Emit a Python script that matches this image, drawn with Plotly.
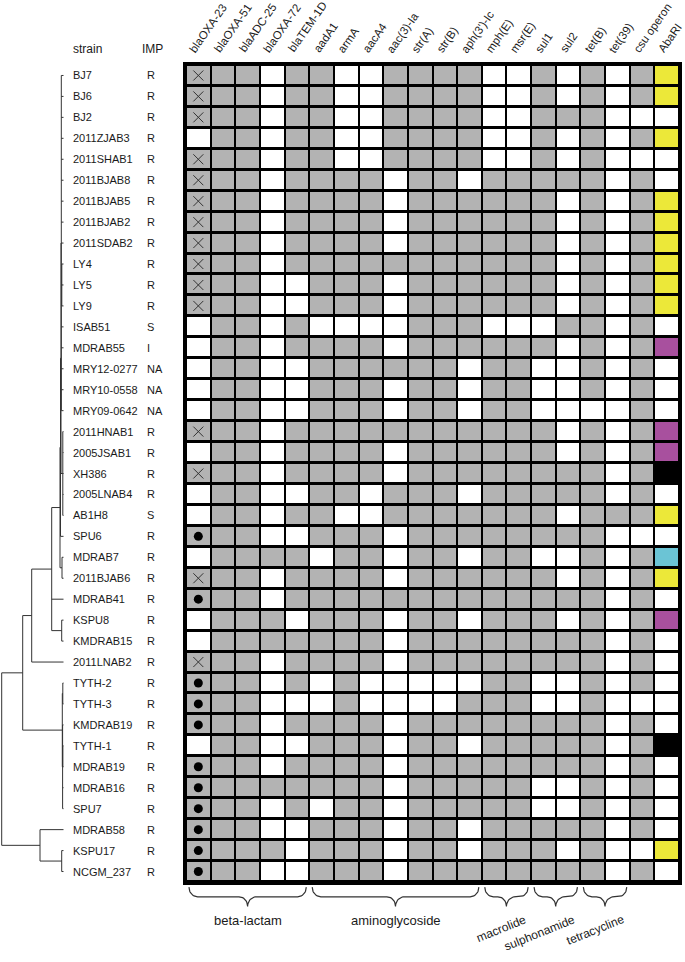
import numpy as np
import plotly.graph_objects as go

W, H = 685, 962

strains = ["BJ7", "BJ6", "BJ2", "2011ZJAB3", "2011SHAB1", "2011BJAB8", "2011BJAB5",
           "2011BJAB2", "2011SDAB2", "LY4", "LY5", "LY9", "ISAB51", "MDRAB55",
           "MRY12-0277", "MRY10-0558", "MRY09-0642", "2011HNAB1", "2005JSAB1", "XH386",
           "2005LNAB4", "AB1H8", "SPU6", "MDRAB7", "2011BJAB6", "MDRAB41", "KSPU8",
           "KMDRAB15", "2011LNAB2", "TYTH-2", "TYTH-3", "KMDRAB19", "TYTH-1", "MDRAB19",
           "MDRAB16", "SPU7", "MDRAB58", "KSPU17", "NCGM_237"]

imp = ["R"] * 12 + ["S", "I", "NA", "NA", "NA", "R", "R", "R", "R", "S"] + ["R"] * 17

genes = ["blaOXA-23", "blaOXA-51", "blaADC-25", "blaOXA-72", "blaTEM-1D", "aadA1", "armA",
         "aacA4", "aac(3)-Ia", "str(A)", "str(B)", "aph(3')-Ic", "mph(E)", "msr(E)", "sul1",
         "sul2", "tet(B)", "tet(39)", "csu operon", "AbaRI"]

# blaOXA-23 column: "x" present (cross), "o" present (dot), "" absent
oxa23 = ["x", "x", "x", "", "x", "x", "x", "x", "x", "x", "x", "x", "", "", "", "", "",
         "x", "", "x", "", "", "o", "", "x", "o", "", "", "x", "o", "o", "o", "", "o",
         "o", "o", "o", "o", "o"]

# presence of blaOXA-51 ... csu operon (1 = present)
present = [
    [1, 1, 0, 1, 1, 0, 0, 1, 1, 1, 1, 0, 0, 1, 0, 1, 0, 1],  # BJ7
    [1, 1, 0, 1, 1, 0, 0, 1, 1, 1, 1, 0, 0, 1, 0, 1, 0, 1],  # BJ6
    [1, 1, 0, 1, 1, 0, 0, 1, 1, 1, 1, 0, 0, 1, 1, 1, 0, 0],  # BJ2
    [1, 1, 0, 1, 1, 0, 0, 1, 1, 1, 1, 0, 0, 1, 0, 1, 0, 1],  # 2011ZJAB3
    [1, 1, 0, 1, 1, 0, 0, 1, 1, 1, 1, 0, 0, 1, 0, 1, 0, 0],  # 2011SHAB1
    [1, 1, 0, 1, 1, 1, 1, 0, 1, 1, 0, 1, 1, 1, 1, 1, 0, 1],  # 2011BJAB8
    [1, 1, 0, 1, 1, 1, 1, 0, 1, 1, 1, 1, 1, 1, 0, 1, 0, 1],  # 2011BJAB5
    [1, 1, 0, 1, 1, 1, 1, 0, 1, 1, 1, 1, 1, 1, 0, 1, 0, 1],  # 2011BJAB2
    [1, 1, 0, 1, 1, 1, 1, 0, 1, 1, 1, 1, 1, 1, 0, 1, 0, 1],  # 2011SDAB2
    [1, 1, 0, 1, 1, 1, 1, 1, 1, 1, 1, 1, 1, 1, 0, 1, 0, 1],  # LY4
    [1, 1, 0, 0, 1, 1, 1, 0, 1, 1, 1, 1, 1, 1, 0, 1, 0, 1],  # LY5
    [1, 1, 0, 0, 1, 1, 1, 0, 1, 1, 1, 1, 1, 1, 0, 1, 0, 1],  # LY9
    [1, 1, 0, 1, 0, 0, 0, 0, 1, 1, 1, 0, 0, 0, 1, 1, 0, 1],  # ISAB51
    [1, 1, 0, 1, 1, 1, 1, 0, 1, 1, 1, 1, 1, 1, 0, 1, 0, 1],  # MDRAB55
    [1, 1, 0, 0, 1, 1, 1, 1, 1, 1, 0, 1, 1, 0, 0, 1, 0, 1],  # MRY12-0277
    [1, 1, 0, 0, 1, 1, 1, 0, 1, 1, 0, 1, 1, 0, 0, 1, 0, 1],  # MRY10-0558
    [1, 1, 0, 0, 1, 1, 1, 0, 1, 1, 0, 1, 1, 0, 0, 0, 0, 1],  # MRY09-0642
    [1, 1, 0, 1, 1, 1, 1, 1, 1, 1, 1, 1, 1, 1, 0, 1, 0, 1],  # 2011HNAB1
    [1, 1, 0, 1, 1, 1, 1, 0, 1, 1, 1, 1, 1, 1, 0, 1, 0, 1],  # 2005JSAB1
    [1, 1, 0, 1, 1, 1, 1, 0, 1, 1, 1, 1, 1, 1, 1, 1, 0, 1],  # XH386
    [1, 1, 0, 0, 1, 1, 0, 1, 1, 1, 0, 1, 1, 1, 1, 1, 0, 1],  # 2005LNAB4
    [1, 1, 0, 1, 1, 0, 0, 1, 1, 1, 1, 1, 1, 1, 0, 1, 1, 1],  # AB1H8
    [1, 1, 0, 0, 1, 1, 1, 0, 1, 1, 1, 1, 1, 1, 1, 1, 0, 0],  # SPU6
    [1, 1, 1, 1, 0, 1, 1, 0, 1, 1, 0, 1, 1, 0, 0, 1, 0, 1],  # MDRAB7
    [1, 1, 0, 1, 1, 1, 1, 0, 1, 1, 1, 1, 1, 1, 0, 1, 0, 1],  # 2011BJAB6
    [1, 1, 0, 1, 1, 1, 1, 1, 1, 1, 1, 1, 1, 1, 1, 1, 0, 1],  # MDRAB41
    [1, 1, 1, 0, 1, 1, 1, 0, 1, 1, 0, 1, 1, 1, 0, 1, 0, 1],  # KSPU8
    [1, 1, 1, 1, 1, 1, 1, 0, 1, 1, 1, 1, 1, 1, 1, 1, 0, 1],  # KMDRAB15
    [1, 1, 0, 1, 1, 1, 1, 0, 1, 1, 1, 1, 1, 1, 1, 1, 0, 1],  # 2011LNAB2
    [1, 1, 0, 1, 0, 1, 0, 0, 0, 0, 0, 1, 1, 0, 0, 1, 0, 1],  # TYTH-2
    [1, 1, 0, 0, 0, 1, 0, 0, 0, 0, 1, 1, 1, 0, 0, 1, 0, 0],  # TYTH-3
    [1, 1, 0, 1, 1, 1, 1, 0, 1, 1, 1, 1, 1, 1, 1, 1, 0, 1],  # KMDRAB19
    [1, 1, 0, 0, 1, 1, 1, 0, 1, 1, 0, 1, 1, 1, 1, 1, 0, 1],  # TYTH-1
    [1, 1, 0, 1, 1, 1, 1, 0, 1, 1, 1, 1, 1, 1, 1, 1, 0, 1],  # MDRAB19
    [1, 1, 1, 1, 1, 1, 1, 0, 1, 1, 1, 1, 1, 0, 0, 1, 0, 1],  # MDRAB16
    [1, 1, 0, 1, 0, 1, 1, 0, 1, 1, 1, 1, 1, 0, 0, 1, 0, 1],  # SPU7
    [1, 1, 0, 0, 1, 1, 1, 0, 1, 1, 0, 1, 1, 1, 1, 1, 0, 1],  # MDRAB58
    [1, 1, 1, 0, 1, 1, 1, 0, 1, 1, 0, 1, 1, 1, 0, 1, 0, 0],  # KSPU17
    [1, 1, 0, 0, 1, 1, 1, 0, 1, 1, 1, 1, 1, 1, 1, 1, 0, 1],  # NCGM_237
]

# AbaRI-type island class per strain ("" = none)
abari = ["Y", "Y", "", "Y", "", "", "Y", "Y", "Y", "Y", "Y", "Y", "", "P", "", "", "",
         "P", "P", "K", "", "Y", "", "C", "Y", "", "P", "", "", "", "", "", "K", "", "",
         "", "", "Y", ""]

groups = [("beta-lactam", 0, 4), ("aminoglycoside", 5, 11), ("macrolide", 12, 13),
          ("sulphonamide", 14, 15), ("tetracycline", 16, 17)]

# dendrogram: (branch depth, children); leaves are strain names
tree = (1.7, [
    (22.7, [
        (31.7, [
            (51.7, [
                (60, [
                    (60.5, [
                        (61, [
                            (61.3, ["BJ7", "BJ6", "BJ2", "2011ZJAB3", "2011SHAB1", "2011BJAB8",
                                    "2011BJAB5", "2011BJAB2", "2011SDAB2",
                                    (61.8, ["LY4", "LY5", "LY9"]),
                                    "ISAB51", "MDRAB55", "MRY12-0277", "MRY10-0558", "MRY09-0642"]),
                            (62.8, ["2011HNAB1", "2005JSAB1", "XH386", "2005LNAB4", "AB1H8"]),
                        ]),
                        "SPU6",
                    ]),
                    (62, ["MDRAB7", "2011BJAB6"]),
                ]),
                "MDRAB41",
                (61.7, ["KSPU8", "KMDRAB15"]),
            ]),
            "2011LNAB2",
        ]),
        (62.3, [(62.8, ["TYTH-2", "TYTH-3"]),
                (62.6, ["KMDRAB19", (62.8, ["TYTH-1", "MDRAB19"]), "MDRAB16", "SPU7"])]),
    ]),
    (40, ["MDRAB58", (61.7, ["KSPU17", "NCGM_237"])]),
])

GRAY = "#b3b3b3"
abari_code = {"": 0, "Y": 2, "P": 3, "K": 4, "C": 5}
colorscale = [[0, "white"], [0.2, GRAY], [0.4, "#ece839"], [0.6, "#a8509e"],
              [0.8, "black"], [1.0, "#6bc4d5"]]

z = []
for i in range(len(strains)):
    z.append([1 if oxa23[i] else 0] + present[i] + [abari_code[abari[i]]])

n = len(strains)
TEXT = "#1a1a1a"
FONT = "Arial, Liberation Sans, sans-serif"

fig = go.Figure()

# black background behind the cells -> grid lines
fig.add_shape(type="rect", xref="x", yref="y", x0=-0.5, x1=len(genes) - 0.5,
              y0=-0.5, y1=n - 0.5, fillcolor="black", line_width=0, layer="below")

fig.add_trace(go.Heatmap(z=z, x=list(range(len(genes))), y=list(range(n)),
                         colorscale=colorscale, zmin=0, zmax=5, showscale=False,
                         xgap=2, ygap=3, hoverinfo="skip"))

cross_rows = [i for i, v in enumerate(oxa23) if v == "x"]
dot_rows = [i for i, v in enumerate(oxa23) if v == "o"]
fig.add_trace(go.Scatter(x=[0] * len(cross_rows), y=cross_rows, mode="markers",
                         marker=dict(symbol="x-thin", size=10,
                                     line=dict(width=1, color="#333333")),
                         hoverinfo="skip"))
fig.add_trace(go.Scatter(x=[0] * len(dot_rows), y=dot_rows, mode="markers",
                         marker=dict(symbol="circle", size=9, color="black"),
                         hoverinfo="skip"))


# tree
def walk(node, parent_x, xs, ys):
    if isinstance(node, str):
        y = strains.index(node)
        xs += [parent_x, 63.5, None]
        ys += [y, y, None]
        return y
    x, children = node
    cy = [walk(c, x, xs, ys) for c in children]
    y = (min(cy) + max(cy)) / 2
    xs += [x, x, None]
    ys += [min(cy), max(cy), None]
    if parent_x is not None:
        xs += [parent_x, x, None]
        ys += [y, y, None]
    return y


tx, ty = [], []
walk(tree, None, tx, ty)
fig.add_trace(go.Scatter(x=tx, y=ty, xaxis="x2", yaxis="y", mode="lines",
                         line=dict(color="#333333", width=1), hoverinfo="skip"))

# braces under the gene groups
bx, by = [], []
t = np.linspace(0, np.pi / 2, 12)
for name, a, b in groups:
    x0, x1 = a - 0.5 + 0.12, b + 0.5 - 0.12
    m, r = (x0 + x1) / 2, 0.35
    top, mid, tip = 0.05, 0.45, 0.85
    seg_x = np.concatenate([x0 + r * (1 - np.cos(t)), m - r + r * np.sin(t),
                            m + r - r * np.sin(t[::-1]), x1 - r * (1 - np.cos(t[::-1]))])
    seg_y = np.concatenate([top + (mid - top) * np.sin(t), mid + (tip - mid) * (1 - np.cos(t)),
                            mid + (tip - mid) * (1 - np.cos(t[::-1])), top + (mid - top) * np.sin(t[::-1])])
    bx += list(seg_x) + [None]
    by += list(seg_y) + [None]
fig.add_trace(go.Scatter(x=bx, y=by, xaxis="x3", yaxis="y3", mode="lines",
                         line=dict(color="#333333", width=1.2), hoverinfo="skip"))

ann = []
for i, s in enumerate(strains):
    ann.append(dict(x=71 / W, y=i, xref="paper", yref="y", text=s, showarrow=False,
                    xanchor="left", yanchor="middle", font=dict(size=11, color=TEXT)))
    ann.append(dict(x=145 / W, y=i, xref="paper", yref="y", text=imp[i], showarrow=False,
                    xanchor="left", yanchor="middle", font=dict(size=11, color=TEXT)))
ann.append(dict(x=71 / W, y=(H - 49) / H, xref="paper", yref="paper", text="strain",
                showarrow=False, xanchor="left", yanchor="middle", font=dict(size=12, color=TEXT)))
ann.append(dict(x=140 / W, y=(H - 49) / H, xref="paper", yref="paper", text="IMP",
                showarrow=False, xanchor="left", yanchor="middle", font=dict(size=12, color=TEXT)))
for j, g in enumerate(genes):
    ann.append(dict(x=j - 0.5, y=(H - 56) / H, xref="x", yref="paper", text=g,
                    showarrow=False, xanchor="left", yanchor="bottom", textangle=-55,
                    borderpad=0, font=dict(size=11.5, color=TEXT)))
for name, a, b in groups:
    m = (a + b) / 2
    if b - a >= 3:
        ann.append(dict(x=m, y=(H - 920) / H, xref="x", yref="paper", text=name,
                        showarrow=False, xanchor="center", yanchor="middle",
                        font=dict(size=13, color=TEXT)))
    else:
        ann.append(dict(x=m + 0.9, y=(H - 911) / H, xref="x", yref="paper", text=name,
                        showarrow=False, xanchor="right", yanchor="top", textangle=-22,
                        borderpad=0, font=dict(size=12, color=TEXT)))

ax_off = dict(showgrid=False, zeroline=False, showticklabels=False, ticks="")
fig.update_layout(
    width=W, height=H,
    margin=dict(l=0, r=0, t=0, b=0),
    paper_bgcolor="white", plot_bgcolor="white",
    showlegend=False,
    font=dict(family=FONT, color=TEXT),
    xaxis=dict(domain=[186 / W, 679 / W], range=[-0.5, len(genes) - 0.5],
               showline=True, mirror=True, linewidth=3, linecolor="black", **ax_off),
    yaxis=dict(domain=[(H - 882) / H, (H - 65) / H], range=[n - 0.5, -0.5],
               showline=True, mirror=True, linewidth=3, linecolor="black", **ax_off),
    xaxis2=dict(domain=[0, 64 / W], range=[0, 64], anchor="y", visible=False),
    xaxis3=dict(domain=[186 / W, 679 / W], range=[-0.5, len(genes) - 0.5], anchor="y3",
                visible=False),
    yaxis3=dict(domain=[(H - 910) / H, (H - 886) / H], range=[1, 0], anchor="x3",
                visible=False),
    annotations=ann,
)

# the page's default body margin would push the figure off the window
fig.write_html("out.html", config={"displayModeBar": False},
               post_script="document.body.style.margin='0';document.body.style.overflow='hidden';")
